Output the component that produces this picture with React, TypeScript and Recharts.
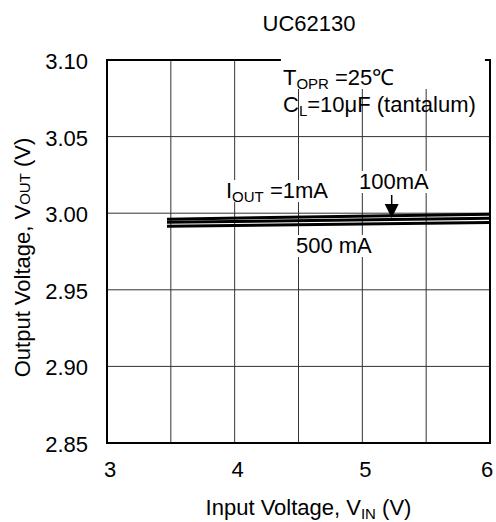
import React from 'react';
import { LineChart, Line, XAxis, YAxis, CartesianGrid, ReferenceArea, ReferenceDot } from 'recharts';

const FONT = '"Liberation Sans", Arial, sans-serif';
const FS = 22;
const SUB = 15;

// input voltage (V) and output voltage (V) per load current
const vin = [3.47, 6];
const vout1mA = [2.9961, 2.9993];
const vout100mA = [2.9941, 2.9967];
const vout500mA = [2.9915, 2.994];

const xTicks = [3, 3.5, 4, 4.5, 5, 5.5, 6];
const xLabels = [3, 4, 5, 6];
const yTicks = [2.85, 2.9, 2.95, 3.0, 3.05, 3.1];

const data = vin.map((v, i) => ({
  vin: v,
  i1: vout1mA[i],
  i100: vout100mA[i],
  i500: vout500mA[i],
}));

const YTick = ({ x, y, payload }: any) => (
  <text x={x - 17} y={y + 9} textAnchor="end" fontSize={FS} fontFamily={FONT} fill="#000">
    {payload.value.toFixed(2)}
  </text>
);

const XTick = ({ x, y, payload }: any) => {
  if (!xLabels.includes(payload.value)) return null;
  const shift = payload.value === 6 ? -3 : 3;
  return (
    <text x={x + shift} y={y + 32} textAnchor="middle" fontSize={FS} fontFamily={FONT} fill="#000">
      {payload.value}
    </text>
  );
};

const XLabel = ({ viewBox }: any) => (
  <text x={viewBox.x + viewBox.width / 2 + 10} y={viewBox.y + 72} textAnchor="middle" fontSize={FS} fontFamily={FONT} fill="#000">
    Input Voltage, V
    <tspan fontSize={SUB} dy={4}>IN</tspan>
    <tspan dy={-4}> (V)</tspan>
  </text>
);

const YLabel = ({ viewBox }: any) => {
  const cx = 30;
  const cy = viewBox.y + viewBox.height / 2 + 6;
  return (
    <text x={cx} y={cy} transform={`rotate(-90, ${cx}, ${cy})`} textAnchor="middle" fontSize={FS} fontFamily={FONT} fill="#000">
      Output Voltage, V
      <tspan fontSize={SUB}>OUT</tspan>
      <tspan> (V)</tspan>
    </text>
  );
};

// text note anchored at a data point (left/baseline), with white backing
const note = (w: number, h: number, body: React.ReactNode) => (p: any) => (
  <g>
    <rect x={p.cx - 2} y={p.cy - h + 4} width={w} height={h} fill="#fff" />
    <text x={p.cx} y={p.cy} fontSize={FS} fontFamily={FONT} fill="#000">{body}</text>
  </g>
);

const Arrow = (p: any) => (
  <g>
    <line x1={p.cx} y1={p.cy} x2={p.cx} y2={p.cy + 12} stroke="#000" strokeWidth={1.5} />
    <polygon points={`${p.cx - 7},${p.cy + 9} ${p.cx + 7},${p.cy + 9} ${p.cx},${p.cy + 23}`} fill="#000" />
  </g>
);

export default function App() {
  return (
    <div style={{ position: 'absolute', left: 0, top: 0, background: '#fff' }}>
      <LineChart width={496} height={522} data={data} margin={{ top: 60, right: 6, left: 0, bottom: 0 }}>
        <CartesianGrid stroke="#333" strokeWidth={1} />
        <XAxis
          dataKey="vin"
          type="number"
          domain={[3, 6]}
          ticks={xTicks}
          height={79}
          axisLine={false}
          tickLine={false}
          tickSize={0}
          tick={<XTick />}
          label={{ content: <XLabel /> }}
        />
        <YAxis
          type="number"
          domain={[2.85, 3.1]}
          ticks={yTicks}
          width={107}
          axisLine={false}
          tickLine={false}
          tickSize={0}
          tick={<YTick />}
          label={{ content: <YLabel /> }}
        />
        <Line type="linear" dataKey="i1" stroke="#000" strokeWidth={3} dot={false} isAnimationActive={false} />
        <Line type="linear" dataKey="i100" stroke="#000" strokeWidth={3} dot={false} isAnimationActive={false} />
        <Line type="linear" dataKey="i500" stroke="#000" strokeWidth={3} dot={false} isAnimationActive={false} />
        <ReferenceDot
          x={4.378}
          y={3.0837}
          r={0}
          shape={note(204, 52, (
            <>
              T<tspan fontSize={SUB} dy={4}>OPR</tspan>
              <tspan dy={-4}> =25℃</tspan>
              <tspan x={283} dy={27}>C</tspan>
              <tspan fontSize={SUB} dy={4}>L</tspan>
              <tspan dy={-4}>=10μF (tantalum)</tspan>
            </>
          ))}
        />
        <ReferenceDot
          x={3.932}
          y={3.0099}
          r={0}
          shape={note(116, 22, (
            <>
              I<tspan fontSize={SUB} dy={4}>OUT</tspan>
              <tspan dy={-4}> =1mA</tspan>
            </>
          ))}
        />
        <ReferenceDot x={4.974} y={3.0158} r={0} shape={note(76, 22, '100mA')} />
        <ReferenceDot x={4.48} y={2.974} r={0} shape={note(82, 22, '500 mA')} />
        <ReferenceDot x={5.23} y={3.0119} r={0} shape={Arrow} />
        <ReferenceArea x1={3} x2={6} y1={2.85} y2={3.1} fill="none" stroke="#000" strokeWidth={2} />
        <text x={309} y={31} textAnchor="middle" fontSize={FS} fontFamily={FONT} fill="#000">UC62130</text>
      </LineChart>
    </div>
  );
}
